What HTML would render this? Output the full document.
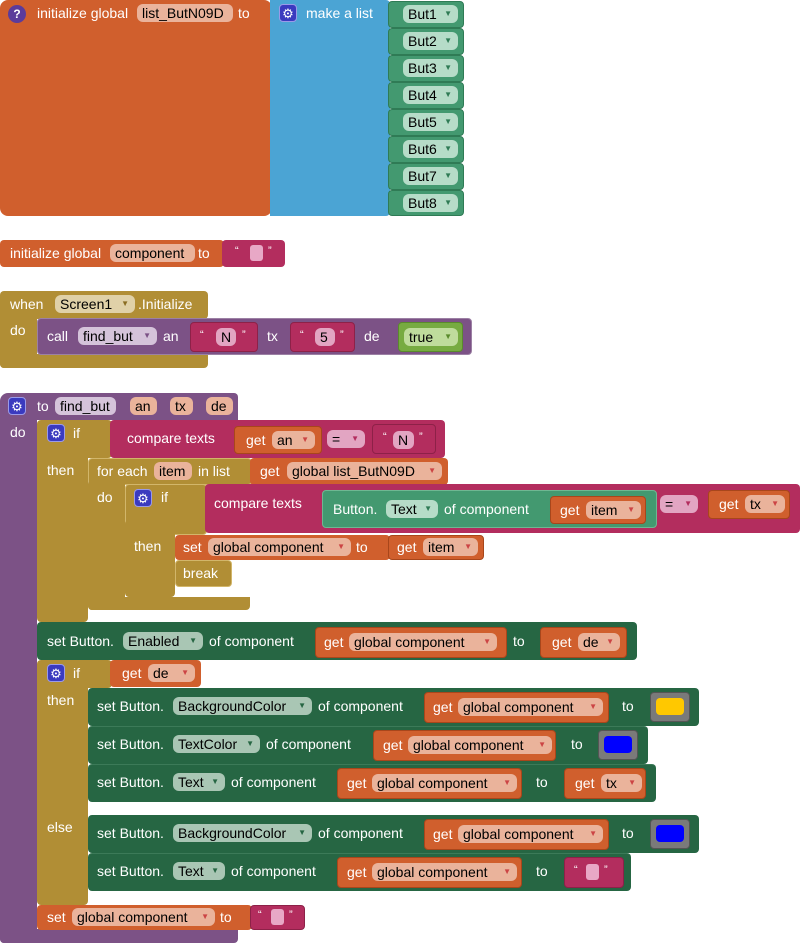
<!DOCTYPE html>
<html><head><meta charset="utf-8"><style>
body{margin:0;width:800px;height:944px;background:#fff;position:relative;overflow:hidden;font-family:"Liberation Sans",sans-serif}
.b{position:absolute;border-radius:4px;box-sizing:border-box}
.t{position:absolute;color:#fff;font-size:14px;line-height:18px;white-space:nowrap}
.p{position:absolute;color:#000;font-size:14px;line-height:18px;height:18px;border-radius:6px;white-space:nowrap;padding-left:5px;box-sizing:border-box}
.p i{font-style:normal;font-size:8px;position:absolute;right:6px;top:0;color:#c44}
.g{position:absolute;width:18px;height:18px;background:#3a3abf;border-radius:4px;color:#fff;font-size:13px;line-height:18px;text-align:center;border:1px solid #9a9ae8;box-sizing:border-box}
.OR{background:#d05f2d}.BL{background:#4ba4d4}.PU{background:#7c5286}.OL{background:#b18e35}.MA{background:#b32d5e}.GR{background:#439970}.DG{background:#266643}
.po{background:#eab39b}.pl{background:#d5c3da}.pg{background:#b6dcc8}.pd{background:#a9c6b4}.pk{background:#e2a5c2}
.sq{position:absolute;width:13px;height:16px;background:#e8a8c6;border-radius:3px}
</style></head><body>

<!-- Block 1 -->
<div class="b OR" style="left:0;top:0;width:272px;height:216px;border-radius:8px"></div>
<div class="b" style="left:8px;top:5px;width:18px;height:18px;border-radius:9px;background:#5b3b9b;color:#fff;font-size:12px;line-height:18px;text-align:center;font-weight:bold">?</div>
<div class="t" style="left:37px;top:4px">initialize global</div>
<div class="p po" style="left:137px;top:4px;width:96px">list_ButN09D</div>
<div class="t" style="left:238px;top:4px">to</div>
<div class="b BL" style="left:270px;top:0;width:120px;height:216px;border-radius:0 4px 4px 0"></div>
<div class="g" style="left:279px;top:4px">⚙</div>
<div class="t" style="left:306px;top:4px">make a list</div>
<div class="b GR" style="left:388px;top:1px;width:76px;height:27px;border:1px solid #2f7b55"></div>
<div class="p pg" style="left:403px;top:5px;width:55px">But1<i style="color:#2f7b55">▼</i></div>
<div class="b GR" style="left:388px;top:28px;width:76px;height:27px;border:1px solid #2f7b55"></div>
<div class="p pg" style="left:403px;top:32px;width:55px">But2<i style="color:#2f7b55">▼</i></div>
<div class="b GR" style="left:388px;top:55px;width:76px;height:27px;border:1px solid #2f7b55"></div>
<div class="p pg" style="left:403px;top:59px;width:55px">But3<i style="color:#2f7b55">▼</i></div>
<div class="b GR" style="left:388px;top:82px;width:76px;height:27px;border:1px solid #2f7b55"></div>
<div class="p pg" style="left:403px;top:86px;width:55px">But4<i style="color:#2f7b55">▼</i></div>
<div class="b GR" style="left:388px;top:109px;width:76px;height:27px;border:1px solid #2f7b55"></div>
<div class="p pg" style="left:403px;top:113px;width:55px">But5<i style="color:#2f7b55">▼</i></div>
<div class="b GR" style="left:388px;top:136px;width:76px;height:27px;border:1px solid #2f7b55"></div>
<div class="p pg" style="left:403px;top:140px;width:55px">But6<i style="color:#2f7b55">▼</i></div>
<div class="b GR" style="left:388px;top:163px;width:76px;height:27px;border:1px solid #2f7b55"></div>
<div class="p pg" style="left:403px;top:167px;width:55px">But7<i style="color:#2f7b55">▼</i></div>
<div class="b GR" style="left:388px;top:190px;width:76px;height:26px;border:1px solid #2f7b55"></div>
<div class="p pg" style="left:403px;top:194px;width:55px">But8<i style="color:#2f7b55">▼</i></div>

<!-- Block 2 -->
<div class="b OR" style="left:0;top:240px;width:224px;height:27px"></div>
<div class="t" style="left:10px;top:244px">initialize global</div>
<div class="p po" style="left:110px;top:244px;width:85px">component</div>
<div class="t" style="left:198px;top:244px">to</div>
<div class="b MA" style="left:222px;top:240px;width:63px;height:27px"></div>
<div class="t" style="left:235px;top:242px;font-size:11px">“</div><div class="sq" style="left:250px;top:245px"></div><div class="t" style="left:268px;top:242px;font-size:11px">”</div>

<!-- Block 3 -->
<div class="b OL" style="left:0;top:291px;width:208px;height:28px"></div>
<div class="b OL" style="left:0;top:315px;width:37px;height:53px;border-radius:0 0 0 4px"></div>
<div class="b OL" style="left:0;top:354px;width:208px;height:14px;border-radius:0 0 4px 4px"></div>
<div class="t" style="left:10px;top:295px">when</div>
<div class="p" style="left:55px;top:295px;width:80px;background:#e0d1a8">Screen1<i style="color:#8a6d22">▼</i></div>
<div class="t" style="left:138px;top:295px">.Initialize</div>
<div class="t" style="left:10px;top:321px">do</div>
<div class="b PU" style="left:37px;top:318px;width:435px;height:37px;border:1px solid #9c80a4"></div>
<div class="t" style="left:47px;top:327px">call</div>
<div class="p pl" style="left:78px;top:327px;width:79px">find_but<i style="color:#7c5286">▼</i></div>
<div class="t" style="left:163px;top:327px">an</div>
<div class="b MA" style="left:190px;top:322px;width:68px;height:30px;border:1px solid #8d2148"></div>
<div class="t" style="left:200px;top:326px;font-size:11px">“</div><div class="p pk" style="left:216px;top:328px;width:20px">N</div><div class="t" style="left:242px;top:326px;font-size:11px">”</div>
<div class="t" style="left:267px;top:327px">tx</div>
<div class="b MA" style="left:290px;top:322px;width:65px;height:30px;border:1px solid #8d2148"></div>
<div class="t" style="left:300px;top:326px;font-size:11px">“</div><div class="p pk" style="left:315px;top:328px;width:20px">5</div><div class="t" style="left:340px;top:326px;font-size:11px">”</div>
<div class="t" style="left:364px;top:327px">de</div>
<div class="b" style="left:398px;top:322px;width:65px;height:30px;background:#77ab41;border:1px solid #5a8a2c"></div>
<div class="p" style="left:404px;top:328px;width:54px;background:#bfdc9c">true<i style="color:#5a8a2c">▼</i></div>

<!-- Block 4 procedure -->
<div class="b PU" style="left:0;top:393px;width:238px;height:27px;border-radius:8px 4px 0 0"></div>
<div class="b PU" style="left:0;top:415px;width:37px;height:528px;border-radius:0 0 0 4px"></div>
<div class="b PU" style="left:0;top:929px;width:238px;height:14px;border-radius:0 0 4px 4px"></div>
<div class="g" style="left:8px;top:397px">⚙</div>
<div class="t" style="left:37px;top:397px">to</div>
<div class="p pl" style="left:55px;top:397px;width:61px">find_but</div>
<div class="p po" style="left:130px;top:397px;width:27px">an</div>
<div class="p po" style="left:170px;top:397px;width:23px">tx</div>
<div class="p po" style="left:206px;top:397px;width:27px">de</div>
<div class="t" style="left:10px;top:423px">do</div>

<!-- if1 -->
<div class="b OL" style="left:37px;top:420px;width:75px;height:38px"></div>
<div class="b OL" style="left:37px;top:450px;width:51px;height:172px"></div>
<div class="g" style="left:47px;top:424px">⚙</div>
<div class="t" style="left:73px;top:424px">if</div>
<div class="t" style="left:47px;top:461px">then</div>
<div class="b MA" style="left:110px;top:420px;width:335px;height:38px"></div>
<div class="t" style="left:127px;top:429px">compare texts</div>
<div class="b OR" style="left:234px;top:426px;width:88px;height:28px;border:1px solid #a8461b"></div>
<div class="t" style="left:246px;top:431px">get</div>
<div class="p po" style="left:272px;top:431px;width:43px">an<i>▼</i></div>
<div class="p pk" style="left:327px;top:430px;width:38px">=<i style="color:#b32d5e">▼</i></div>
<div class="b" style="left:372px;top:424px;width:64px;height:30px;border:1px solid #8d2148"></div>
<div class="t" style="left:383px;top:428px;font-size:11px">“</div><div class="p pk" style="left:393px;top:431px;width:21px">N</div><div class="t" style="left:419px;top:428px;font-size:11px">”</div>

<!-- for each -->
<div class="b OL" style="left:88px;top:458px;width:164px;height:27px;border:1px solid #d2b66a"></div>
<div class="b OL" style="left:88px;top:480px;width:37px;height:130px"></div>
<div class="b OL" style="left:88px;top:597px;width:162px;height:13px;border-radius:0 0 4px 4px"></div>
<div class="t" style="left:97px;top:462px">for each</div>
<div class="p po" style="left:154px;top:462px;width:38px">item</div>
<div class="t" style="left:198px;top:462px">in list</div>
<div class="b OR" style="left:250px;top:458px;width:198px;height:27px"></div>
<div class="t" style="left:260px;top:462px">get</div>
<div class="p po" style="left:287px;top:462px;width:155px">global list_ButN09D<i>▼</i></div>
<div class="t" style="left:97px;top:488px">do</div>

<!-- inner if -->
<div class="b OL" style="left:125px;top:484px;width:82px;height:51px;border:1px solid #d2b66a"></div>
<div class="b OL" style="left:125px;top:520px;width:50px;height:77px"></div>
<div class="g" style="left:134px;top:489px">⚙</div>
<div class="t" style="left:161px;top:488px">if</div>
<div class="t" style="left:134px;top:537px">then</div>
<div class="b MA" style="left:205px;top:484px;width:595px;height:49px"></div>
<div class="t" style="left:214px;top:494px">compare texts</div>
<div class="b GR" style="left:322px;top:490px;width:335px;height:38px;border:1px solid #6fb792"></div>
<div class="t" style="left:333px;top:500px">Button.</div>
<div class="p pg" style="left:386px;top:500px;width:52px">Text<i style="color:#2f7b55">▼</i></div>
<div class="t" style="left:444px;top:500px">of component</div>
<div class="b OR" style="left:550px;top:496px;width:96px;height:28px;border:1px solid #a8461b"></div>
<div class="t" style="left:560px;top:501px">get</div>
<div class="p po" style="left:586px;top:501px;width:55px">item<i>▼</i></div>
<div class="p pk" style="left:660px;top:495px;width:38px">=<i style="color:#b32d5e">▼</i></div>
<div class="b OR" style="left:708px;top:490px;width:82px;height:29px;border:1px solid #a8461b"></div>
<div class="t" style="left:719px;top:495px">get</div>
<div class="p po" style="left:745px;top:495px;width:40px">tx<i>▼</i></div>
<div class="b OR" style="left:175px;top:535px;width:215px;height:25px"></div>
<div class="t" style="left:183px;top:538px">set</div>
<div class="p po" style="left:208px;top:538px;width:143px">global component<i>▼</i></div>
<div class="t" style="left:356px;top:538px">to</div>
<div class="b OR" style="left:388px;top:535px;width:96px;height:25px;border:1px solid #a8461b"></div>
<div class="t" style="left:397px;top:538px">get</div>
<div class="p po" style="left:423px;top:538px;width:55px">item<i>▼</i></div>
<div class="b OL" style="left:175px;top:560px;width:57px;height:27px;border:1px solid #d2b66a"></div>
<div class="t" style="left:183px;top:564px">break</div>

<!-- set Enabled -->
<div class="b DG" style="left:37px;top:622px;width:600px;height:38px"></div>
<div class="t" style="left:47px;top:632px">set Button.</div>
<div class="p pd" style="left:123px;top:632px;width:80px">Enabled<i style="color:#266643">▼</i></div>
<div class="t" style="left:209px;top:632px">of component</div>
<div class="b OR" style="left:315px;top:627px;width:192px;height:31px;border:1px solid #a8461b"></div>
<div class="t" style="left:324px;top:633px">get</div>
<div class="p po" style="left:349px;top:633px;width:148px">global component<i>▼</i></div>
<div class="t" style="left:513px;top:632px">to</div>
<div class="b OR" style="left:540px;top:627px;width:87px;height:31px;border:1px solid #a8461b"></div>
<div class="t" style="left:552px;top:633px">get</div>
<div class="p po" style="left:578px;top:633px;width:42px">de<i>▼</i></div>

<!-- if2 -->
<div class="b OL" style="left:37px;top:660px;width:75px;height:28px"></div>
<div class="b OL" style="left:37px;top:680px;width:51px;height:225px"></div>
<div class="g" style="left:47px;top:664px">⚙</div>
<div class="t" style="left:73px;top:664px">if</div>
<div class="b OR" style="left:110px;top:660px;width:91px;height:27px"></div>
<div class="t" style="left:122px;top:664px">get</div>
<div class="p po" style="left:148px;top:664px;width:47px">de<i>▼</i></div>
<div class="t" style="left:47px;top:691px">then</div>
<div class="t" style="left:47px;top:818px">else</div>

<div class="b DG" style="left:88px;top:688px;width:611px;height:38px"></div>
<div class="t" style="left:97px;top:697px">set Button.</div>
<div class="p pd" style="left:173px;top:697px;width:139px">BackgroundColor<i style="color:#266643">▼</i></div>
<div class="t" style="left:318px;top:697px">of component</div>
<div class="b OR" style="left:424px;top:692px;width:185px;height:31px;border:1px solid #a8461b"></div>
<div class="t" style="left:433px;top:698px">get</div>
<div class="p po" style="left:458px;top:698px;width:145px">global component<i>▼</i></div>
<div class="t" style="left:622px;top:697px">to</div>
<div class="b" style="left:650px;top:692px;width:40px;height:30px;background:#7a7a7a;border:1px solid #555"></div>
<div class="b" style="left:656px;top:698px;width:28px;height:17px;background:#ffc800"></div>

<div class="b DG" style="left:88px;top:726px;width:560px;height:38px;border-top:1px solid #3c7a58"></div>
<div class="t" style="left:97px;top:735px">set Button.</div>
<div class="p pd" style="left:173px;top:735px;width:87px">TextColor<i style="color:#266643">▼</i></div>
<div class="t" style="left:266px;top:735px">of component</div>
<div class="b OR" style="left:373px;top:730px;width:183px;height:31px;border:1px solid #a8461b"></div>
<div class="t" style="left:383px;top:736px">get</div>
<div class="p po" style="left:408px;top:736px;width:144px">global component<i>▼</i></div>
<div class="t" style="left:571px;top:735px">to</div>
<div class="b" style="left:598px;top:730px;width:40px;height:30px;background:#7a7a7a;border:1px solid #555"></div>
<div class="b" style="left:604px;top:736px;width:28px;height:17px;background:#0000ff"></div>

<div class="b DG" style="left:88px;top:764px;width:568px;height:38px;border-top:1px solid #3c7a58"></div>
<div class="t" style="left:97px;top:773px">set Button.</div>
<div class="p pd" style="left:173px;top:773px;width:52px">Text<i style="color:#266643">▼</i></div>
<div class="t" style="left:231px;top:773px">of component</div>
<div class="b OR" style="left:337px;top:768px;width:185px;height:31px;border:1px solid #a8461b"></div>
<div class="t" style="left:347px;top:774px">get</div>
<div class="p po" style="left:372px;top:774px;width:145px">global component<i>▼</i></div>
<div class="t" style="left:536px;top:773px">to</div>
<div class="b OR" style="left:564px;top:768px;width:82px;height:31px;border:1px solid #a8461b"></div>
<div class="t" style="left:575px;top:774px">get</div>
<div class="p po" style="left:601px;top:774px;width:41px">tx<i>▼</i></div>

<div class="b DG" style="left:88px;top:815px;width:611px;height:38px"></div>
<div class="t" style="left:97px;top:824px">set Button.</div>
<div class="p pd" style="left:173px;top:824px;width:139px">BackgroundColor<i style="color:#266643">▼</i></div>
<div class="t" style="left:318px;top:824px">of component</div>
<div class="b OR" style="left:424px;top:819px;width:185px;height:31px;border:1px solid #a8461b"></div>
<div class="t" style="left:433px;top:825px">get</div>
<div class="p po" style="left:458px;top:825px;width:145px">global component<i>▼</i></div>
<div class="t" style="left:622px;top:824px">to</div>
<div class="b" style="left:650px;top:819px;width:40px;height:30px;background:#7a7a7a;border:1px solid #555"></div>
<div class="b" style="left:656px;top:825px;width:28px;height:17px;background:#0000ff"></div>

<div class="b DG" style="left:88px;top:853px;width:543px;height:38px;border-top:1px solid #3c7a58"></div>
<div class="t" style="left:97px;top:862px">set Button.</div>
<div class="p pd" style="left:173px;top:862px;width:52px">Text<i style="color:#266643">▼</i></div>
<div class="t" style="left:231px;top:862px">of component</div>
<div class="b OR" style="left:337px;top:857px;width:185px;height:31px;border:1px solid #a8461b"></div>
<div class="t" style="left:347px;top:863px">get</div>
<div class="p po" style="left:372px;top:863px;width:145px">global component<i>▼</i></div>
<div class="t" style="left:536px;top:862px">to</div>
<div class="b MA" style="left:564px;top:857px;width:60px;height:31px;border:1px solid #8d2148"></div>
<div class="t" style="left:574px;top:861px;font-size:11px">“</div><div class="sq" style="left:586px;top:864px"></div><div class="t" style="left:604px;top:861px;font-size:11px">”</div>

<!-- final set -->
<div class="b OR" style="left:37px;top:905px;width:215px;height:25px"></div>
<div class="t" style="left:47px;top:908px">set</div>
<div class="p po" style="left:72px;top:908px;width:143px">global component<i>▼</i></div>
<div class="t" style="left:220px;top:908px">to</div>
<div class="b MA" style="left:250px;top:905px;width:55px;height:25px;border:1px solid #8d2148"></div>
<div class="t" style="left:258px;top:906px;font-size:11px">“</div><div class="sq" style="left:271px;top:909px"></div><div class="t" style="left:289px;top:906px;font-size:11px">”</div>

</body></html>
